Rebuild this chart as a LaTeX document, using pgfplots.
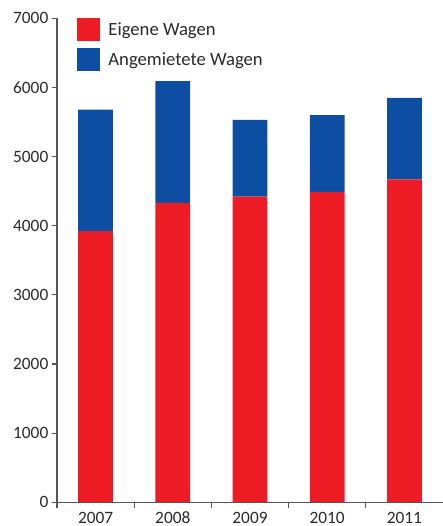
\documentclass[border=0pt]{standalone}
\usepackage{pgfplots}
\pgfplotsset{compat=1.18}
\usepackage{fontspec}
\setmainfont{Carlito}
\definecolor{cred}{HTML}{ED1C24}
\definecolor{cblue}{HTML}{0D4EA2}
\definecolor{axgray}{HTML}{555555}
\definecolor{txtgray}{HTML}{2A2A2A}
\begin{document}
\begin{tikzpicture}
\begin{axis}[
  scale only axis,
  width=289.5pt, height=363pt,
  ybar stacked,
  bar width=0.45,
  xmin=-0.5, xmax=4.5,
  ymin=0, ymax=7000,
  axis lines*=left,
  axis line style={axgray, line width=0.8pt, -},
  axis on top,
  xtick={-0.5,0.5,1.5,2.5,3.5},
  xticklabels={},
  extra x ticks={0,1,2,3,4},
  extra x tick labels={2007,2008,2009,2010,2011},
  extra x tick style={major tick length=0pt, tick style={draw=none},
    xticklabel style={anchor=base, yshift=-16pt}},
  ytick={0,1000,...,7000},
  tick align=outside,
  major tick length=4pt,
  tick style={axgray, line width=0.8pt},
  tick label style={font=\fontsize{13}{15}\selectfont, text=txtgray},
  /pgf/number format/assume math mode=true,
  yticklabel style={/pgf/number format/1000 sep={}, xshift=1pt},
  legend style={draw=none, fill=none, at={(axis cs:-0.24,7000)}, anchor=north west,
    font=\fontsize{14}{16}\selectfont, text=txtgray, row sep=5.5pt,
    inner sep=0pt, outer sep=0pt,
    /tikz/every odd column/.append style={column sep=4.5pt}},
  legend cell align=left,
  legend image code/.code={\fill[#1] (0pt,-8.5pt) rectangle (17pt,8.5pt);},
]
\addplot[fill=cred, draw=none] coordinates {(0,3920) (1,4330) (2,4420) (3,4490) (4,4670)};
\addlegendentry{Eigene Wagen}
\addplot[fill=cblue, draw=none] coordinates {(0,1760) (1,1760) (2,1110) (3,1110) (4,1180)};
\addlegendentry{Angemietete Wagen}
\end{axis}
\pgfresetboundingbox
\useasboundingbox (-42.75pt,-17.8pt) rectangle (289.5pt,376.7pt);
\end{tikzpicture}
\end{document}
